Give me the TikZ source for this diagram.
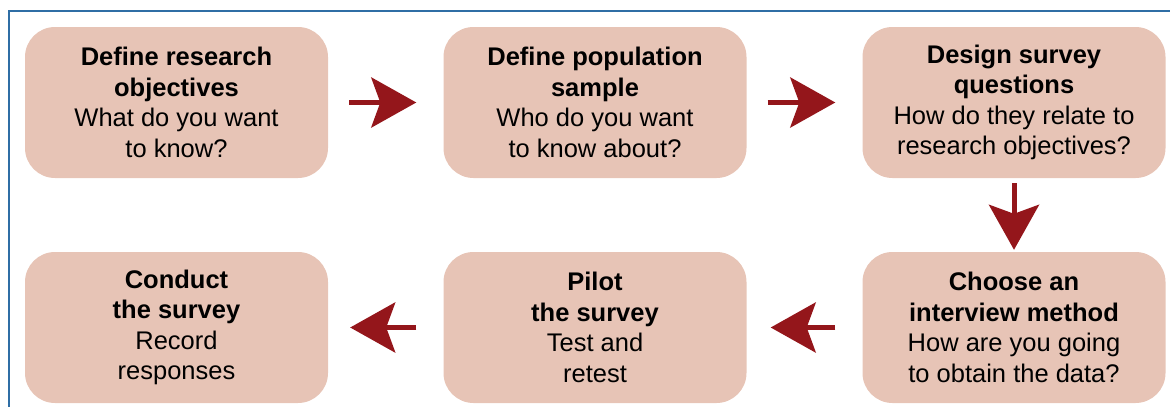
\documentclass[tikz,border=0pt]{standalone}
\usepackage{fontspec}
\setmainfont{Liberation Sans}
\usetikzlibrary{arrows.meta}
\definecolor{frame}{HTML}{2F6EA5}
\definecolor{stepfill}{HTML}{E7C4B6}
\definecolor{arrowred}{HTML}{94161B}
\newcommand{\steptext}[4]{\textbf{#1}\\\textbf{#2}\\#3\\#4}
\tikzset{
  stepbox/.style={
    fill=stepfill,
    rounded corners=30pt,
    minimum width=303pt,
    minimum height=151pt,
    inner sep=0pt,
    align=center,
    font=\fontsize{25.5}{30.5}\selectfont
  },
  flow/.style={draw=arrowred, line width=5pt,
    -{Stealth[length=45pt, width=50pt, inset=9pt]}},
  rim/.style={draw=frame, line width=1.5pt}
}

\begin{document}
\begin{tikzpicture}[x=1pt, y=-1pt]
  \useasboundingbox (0,0) rectangle (1170,407);
  \draw[rim] (1170,11) -- (9,11) -- (9,407);

  % top row
  \node[stepbox] (objectives) at (176.5,102.5)
  {\steptext{Define research}{objectives}{What do you want}{to know?}};
  \node[stepbox] (sample) at (595,102.5)
  {\steptext{Define population}{sample}{Who do you want}{to know about?}};
  \node[stepbox] (questions) at (1014,102.5)
  {\steptext{Design survey}{questions}{How do they relate to}{research objectives?}};

  % bottom row
  \node[stepbox] (method) at (1014,327.5)
  {\steptext{Choose an}{interview method}{How are you going}{to obtain the data?}};
  \node[stepbox] (pilot) at (595,327.5)
  {\steptext{Pilot}{the survey}{Test and}{retest}};
  \node[stepbox] (conduct) at (176.5,327.5)
  {\steptext{Conduct}{the survey}{Record}{responses}};

  \draw[flow, shorten <=21pt, shorten >=27pt] (objectives) -- (sample);
  \draw[flow, shorten <=21pt, shorten >=27pt] (sample) -- (questions);
  \draw[flow, shorten <=5pt, shorten >=2pt] (questions) -- (method);
  \draw[flow, shorten <=27pt, shorten >=24pt] (method) -- (pilot);
  \draw[flow, shorten <=27pt, shorten >=22pt] (pilot) -- (conduct);
\end{tikzpicture}
\end{document}
